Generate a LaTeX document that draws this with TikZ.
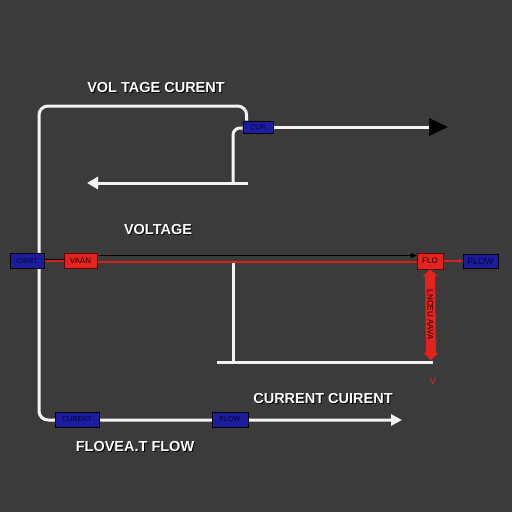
\documentclass[tikz,border=0pt]{standalone}
\usepackage{fontspec}
\setmainfont{Liberation Sans}
\usetikzlibrary{arrows.meta}
\pgfdeclarelayer{back}
\pgfdeclarelayer{lines}
\pgfsetlayers{back,lines,main}
\definecolor{bgc}{HTML}{3B3B3B}
\definecolor{wirec}{HTML}{F4F4F4}
\definecolor{boxblue}{HTML}{1C1C9E}
\definecolor{boxred}{HTML}{E4221E}
\definecolor{redline}{HTML}{D8201E}
\begin{document}
\begin{tikzpicture}[x=1pt,y=-1pt,
  wire/.style={draw=wirec,line width=3pt},
  bluebox/.style={draw=black,fill=boxblue,line width=0.8pt,inner sep=0pt,text=black!80!blue,font=\fontsize{7}{7}\selectfont},
  redbox/.style={draw=black!60!red,fill=boxred,line width=0.6pt,inner sep=0pt,text=black!85!red,font=\fontsize{8}{8}\selectfont},
  title/.style={text=white,font=\bfseries\fontsize{14.5}{15}\selectfont},
  shadow/.style={text=black,font=\bfseries\fontsize{14.5}{15}\selectfont},
]
\begin{pgfonlayer}{back}
\fill[bgc] (0,0) rectangle (512,512);
\end{pgfonlayer}

% boxes
\node[bluebox,minimum width=30pt,minimum height=12pt] (cur) at (258,127) {CUR};
\node[bluebox,minimum width=34pt,minimum height=15pt] (cirrt) at (27,261) {CIRRT};
\node[redbox,minimum width=33pt,minimum height=15pt] (vaan) at (80.5,261) {VAAN};
\node[redbox,minimum width=26pt,minimum height=16pt] (flo) at (430,261) {FLO};
\node[bluebox,minimum width=35pt,minimum height=14pt,font=\fontsize{9}{9}\selectfont] (flow) at (480.5,261) {FLOW};
\node[bluebox,minimum width=44pt,minimum height=15pt] (curent) at (77,419.5) {CURENT};
\node[bluebox,minimum width=36pt,minimum height=15pt] (flowb) at (230,419.5) {FLOW};

% coordinates
\coordinate (toptip) at (448,127);
\coordinate (leftip) at (87,183);
\coordinate (lstart) at (248,183);
\coordinate (innerbot) at (233,183);
\coordinate (botright) at (402,420);
\coordinate (vtop) at (233,263);
\coordinate (hl) at (217,362);
\coordinate (hr) at (433,362);
\coordinate (dbot) at (431,360);

\begin{pgfonlayer}{lines}
% outer loop
\draw[wire,rounded corners=9pt,-{Triangle[length=11pt,width=11pt]}]
  ([xshift=4pt]cur.north west) |- (39,106) |- (botright);
% inner return
\draw[wire,rounded corners=7pt] ([yshift=-1pt]cur.west) -| (innerbot);
\draw[wire,-{Triangle[length=11pt,width=12pt]}] (lstart) -- (leftip);
% top right arrow
\draw[wire] (cur.east) -- ([xshift=-16pt]toptip);
\fill[black] (toptip) -- ++(-19,-9) -- ++(0,18) -- cycle;
% middle verticals
\draw[wire] (vtop) -- (233,362);
\draw[wire] (hl) -- (hr);
% red row
\draw[redline,line width=2pt] (cirrt.east) -- (vaan.west);
\draw[black,line width=0.8pt] ([yshift=1.5pt]cirrt.east) -- ([yshift=1.5pt]vaan.west);
\draw[redline,line width=2.4pt] ([yshift=-1pt]vaan.east) -- ([yshift=-1pt]flo.west);
\draw[black,line width=1.4pt,-{Triangle[length=6pt,width=5pt]}] ([yshift=5.5pt]vaan.east) -- ([yshift=5.5pt]flo.west);
\draw[redline,line width=2pt,-{Triangle[length=4pt,width=4pt,fill=black]}] (flo.east) -- (flow.west);
% red double arrow
\draw[boxred,line width=10pt,{Triangle[length=7pt,width=15pt]}-{Triangle[length=7pt,width=15pt]}] (flo.south) -- (dbot)
  node[midway,rotate=-90,text=black,font=\fontsize{8}{8}\selectfont] (lbl) {LNCEU AAVA};
\end{pgfonlayer}

% texts
\node[shadow] at (157,89) {VOL TAGE CURENT};
\node[title] (t1) at (156,88) {VOL TAGE CURENT};
\node[shadow] at (159,231) {VOLTAGE};
\node[title] (t2) at (158,230) {VOLTAGE};
\node[shadow] at (324,400) {CURRENT CUIRENT};
\node[title] (t3) at (323,399) {CURRENT CUIRENT};
\node[shadow] at (136,448) {FLOVEA.T FLOW};
\node[title] (t4) at (135,447) {FLOVEA.T FLOW};
\node[text=boxred,font=\fontsize{10}{10}\selectfont] (v) at (433,381) {V};
\end{tikzpicture}
\end{document}
